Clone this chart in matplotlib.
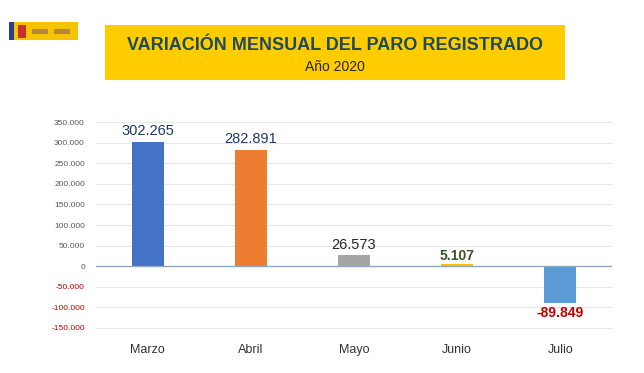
import matplotlib.pyplot as plt
from matplotlib.patches import Rectangle

plt.rcParams['font.family'] = ['Liberation Sans', 'DejaVu Sans']

# data
meses = ["Marzo", "Abril", "Mayo", "Junio", "Julio"]
variacion = [302265, 282891, 26573, 5107, -89849]
etiquetas = ["302.265", "282.891", "26.573", "5.107", "-89.849"]
colores = ["#4472C4", "#ED7D31", "#A5A5A5", "#FFC000", "#5B9BD5"]
colores_etiqueta = ["#1F3864", "#1F3864", "#262626", "#375623", "#C00000"]
negrita = [False, False, False, True, True]
ticks_y = [-150000, -100000, -50000, 0, 50000, 100000, 150000,
           200000, 250000, 300000, 350000]

W, H = 644, 373
fig = plt.figure(figsize=(W / 100, H / 100), dpi=100)
fig.patch.set_facecolor("white")

# header: yellow banner
fig.patches.append(Rectangle((105 / W, 1 - 80 / H), 460 / W, 55 / H,
                             transform=fig.transFigure, facecolor="#FFCC00",
                             edgecolor="none"))
fig.text(335 / W, 1 - 46 / H, "VARIACIÓN MENSUAL DEL PARO REGISTRADO",
         ha="center", va="center", fontsize=13, fontweight="bold", color="#1D4A5C")
fig.text(335 / W, 1 - 67 / H, "Año 2020", ha="center", va="center",
         fontsize=10, color="#222222")

# small logo
fig.patches.append(Rectangle((14 / W, 1 - 40 / H), 64 / W, 18 / H,
                             transform=fig.transFigure, facecolor="#F5C400",
                             edgecolor="none"))
fig.patches.append(Rectangle((9 / W, 1 - 40 / H), 5 / W, 18 / H,
                             transform=fig.transFigure, facecolor="#2B3E8C",
                             edgecolor="none"))
fig.patches.append(Rectangle((18 / W, 1 - 38 / H), 8 / W, 13 / H,
                             transform=fig.transFigure, facecolor="#C8302A",
                             edgecolor="none"))
for lx in (32, 54):
    fig.patches.append(Rectangle((lx / W, 1 - 34 / H), 16 / W, 5 / H,
                                 transform=fig.transFigure, facecolor="#B8863A",
                                 edgecolor="none"))

ax = fig.add_axes([96 / W, 1 - 330 / H, 516 / W, 210 / H])
x = range(len(meses))
bars = ax.bar(x, variacion, width=0.31, color=colores, zorder=3)

for i, b in enumerate(bars):
    v = variacion[i]
    if v >= 0:
        y = v + 8000 if not negrita[i] else v + 3000
        va = "bottom"
    else:
        y = v - 7000
        va = "top"
    ax.text(b.get_x() + b.get_width() / 2, y, etiquetas[i], ha="center", va=va,
            fontsize=10.5 if not negrita[i] else 10,
            fontweight="bold" if negrita[i] else "normal",
            color=colores_etiqueta[i])

ax.set_xlim(-0.5, len(meses) - 0.5)
ax.set_ylim(-155000, 355000)
ax.set_yticks(ticks_y)
ax.set_yticklabels([f"{t:,}".replace(",", ".") for t in ticks_y], fontsize=6)
for lab, t in zip(ax.get_yticklabels(), ticks_y):
    lab.set_color("#C00000" if t < 0 else "#595959")
ax.set_xticks(list(x))
ax.set_xticklabels(meses, fontsize=9, color="#333333")
ax.tick_params(axis="x", length=0, pad=10)
ax.tick_params(axis="y", length=0, pad=8)
ax.grid(axis="y", color="#E6E6E6", linewidth=0.8, zorder=0)
ax.axhline(0, color="#8EA9C1", linewidth=1, zorder=4)
for s in ax.spines.values():
    s.set_visible(False)

fig.savefig("out.png", dpi=100)
